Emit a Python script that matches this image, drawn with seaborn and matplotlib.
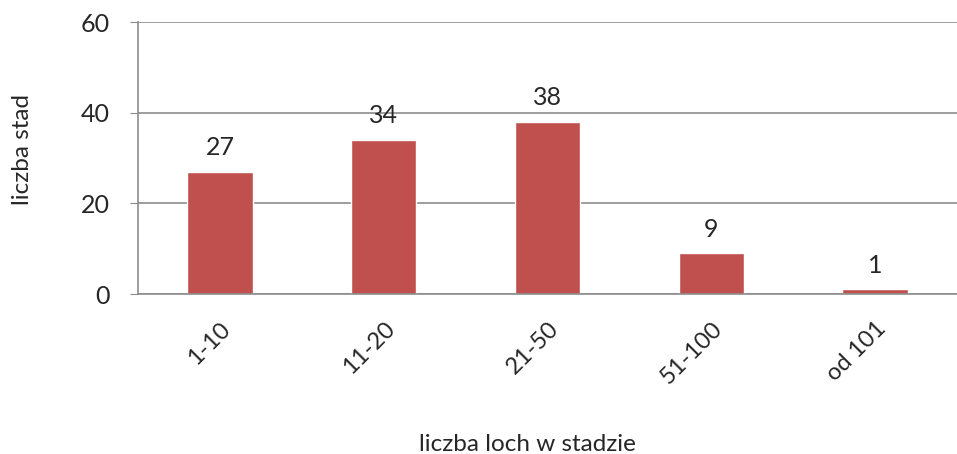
import matplotlib
matplotlib.use("Agg")
import matplotlib.pyplot as plt
import seaborn as sns
import pandas as pd

categories = ["1-10", "11-20", "21-50", "51-100", "od 101"]
values = [27, 34, 38, 9, 1]

df = pd.DataFrame({"kat": categories, "n": values})

sns.set_style("white")
plt.rcParams["font.family"] = ["Lato", "DejaVu Sans"]

fig = plt.figure(figsize=(9.57, 4.54), dpi=100)
ax = fig.add_axes([0.1442, 0.3524, 0.8558, 0.599])

sns.barplot(data=df, x="kat", y="n", color="#C0504D", saturation=1, width=0.4, ax=ax)

for i, v in enumerate(values):
    ax.annotate(str(v), (i, v), xytext=(0, 9), textcoords="offset points",
                ha="center", va="bottom", fontsize=18)

ax.set_ylim(0, 60)
ax.set_yticks([0, 20, 40, 60])
ax.set_xlim(-0.5, 4.5)
ax.yaxis.grid(True, color="#8c8c8c", linewidth=1.2)
ax.set_axisbelow(True)
for s in ["top", "right"]:
    ax.spines[s].set_visible(False)
ax.spines["left"].set_color("#8c8c8c")
ax.spines["bottom"].set_color("#8c8c8c")
ax.spines["left"].set_linewidth(1.2)
ax.spines["bottom"].set_linewidth(1.2)
ax.tick_params(axis="y", left=True, length=6, color="#8c8c8c", labelsize=18, pad=14)
ax.tick_params(axis="x", bottom=False, labelsize=17, pad=14)
plt.setp(ax.get_xticklabels(), rotation=45, ha="right", rotation_mode="anchor")

ax.set_xlabel("liczba loch w stadzie", fontsize=17.5)
ax.set_ylabel("liczba stad", fontsize=17.5)
# label positions in axes fraction (right edge of ylabel, top of xlabel)
ax.yaxis.set_label_coords(-0.128, 0.53)
ax.xaxis.set_label_coords(0.475, -0.515)

fig.savefig("out.png", dpi=100)
